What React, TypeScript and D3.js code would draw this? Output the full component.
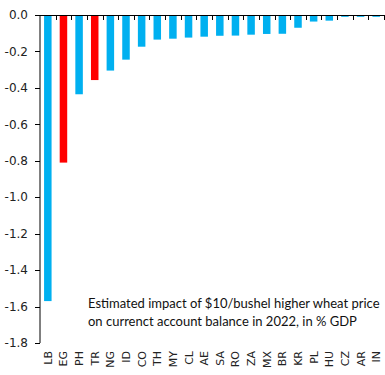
import React from "react";
import * as d3 from "d3";

const categories = ["LB","EG","PH","TR","NG","ID","CO","TH","MY","CL","AE","SA","RO","ZA","MX","BR","KR","PL","HU","CZ","AR","IN"];
const values = [-1.57,-0.81,-0.435,-0.357,-0.305,-0.245,-0.174,-0.135,-0.13,-0.124,-0.119,-0.114,-0.113,-0.108,-0.104,-0.103,-0.07,-0.036,-0.031,-0.01,-0.01,-0.01];
const highlighted = ["EG","TR"];
const yTicks = [0,-0.2,-0.4,-0.6,-0.8,-1.0,-1.2,-1.4,-1.6,-1.8];
const noteLines = ["Estimated impact of $10/bushel higher wheat price","on currenct account balance in 2022, in % GDP"];

const W = 385, H = 375;
const left = 40, right = 384, top = 15, bottom = 343;

export default function App() {
  const x = d3.scaleBand<string>().domain(categories).range([left, right]).paddingInner(0.52).paddingOuter(0.26);
  const xb = d3.scaleBand<string>().domain(categories).range([left, right]);
  const y = d3.scaleLinear().domain([0, -1.8]).range([top, bottom]);
  const font = "'DejaVu Sans', Verdana, sans-serif";
  return (
    <svg width={W} height={H} style={{ position: "absolute", left: 0, top: 0, background: "#fff" }}>
      {categories.map((c, i) => (
        <rect key={c} x={x(c)} y={y(0)} width={x.bandwidth()} height={y(values[i]) - y(0)}
          fill={highlighted.includes(c) ? "#FF0000" : "#00B0F0"} />
      ))}
      {/* y axis */}
      <line x1={left} x2={left} y1={top} y2={bottom} stroke="#000" strokeWidth={1} />
      {yTicks.map(t => (
        <g key={t}>
          <line x1={left - 5} x2={left} y1={Math.round(y(t)) + 0.5} y2={Math.round(y(t)) + 0.5} stroke="#000" />
          <text x={left - 12} y={y(t)} dy="0.35em" textAnchor="end" fontFamily={font} fontSize={12} fill="#222">{t.toFixed(1)}</text>
        </g>
      ))}
      {/* x axis at 0 */}
      <line x1={left} x2={right} y1={Math.round(y(0)) + 0.5} y2={Math.round(y(0)) + 0.5} stroke="#000" />
      {categories.map((c) => (
        <line key={"t" + c} x1={Math.round((xb(c) as number) + xb.bandwidth()) + 0.5} x2={Math.round((xb(c) as number) + xb.bandwidth()) + 0.5}
          y1={y(0)} y2={y(0) + 5} stroke="#000" />
      ))}
      {categories.map(c => {
        const cx = (xb(c) as number) + xb.bandwidth() / 2;
        return (
          <text key={"l" + c} transform={`translate(${cx + 4},${351}) rotate(-90)`} textAnchor="end"
            fontFamily={font} fontSize={11} fill="#222">{c}</text>
        );
      })}
      {noteLines.map((l, i) => (
        <text key={i} x={88} y={308 + i * 17.5} fontFamily="Lato, 'Liberation Sans', Arial, sans-serif" fontSize={13}
          fill="#111">{l}</text>
      ))}
    </svg>
  );
}
